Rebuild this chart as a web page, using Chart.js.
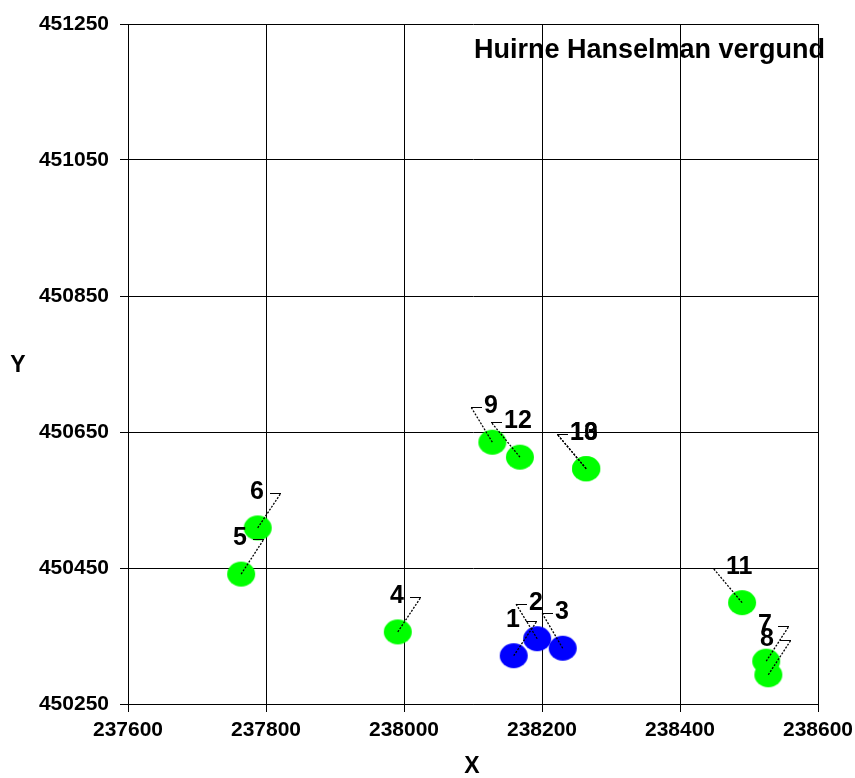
<!DOCTYPE html>
<html>
<head>
<meta charset="utf-8">
<script src="https://cdn.jsdelivr.net/npm/chart.js@4/dist/chart.umd.min.js"></script>
<style>
  body { margin: 0; background: #fff; }
  #wrap { width: 855px; height: 778px; }
</style>
</head>
<body>
<div id="wrap"><canvas id="chartCanvas" width="855" height="778"></canvas></div>
<script>
// punten (X, Y) zoals
const blueNames = ["1", "2", "3"];
const blueX = [238159, 238193, 238230];
const blueY = [450321, 450346, 450332];

const greenNames = ["4", "5", "6", "7", "8", "9", "10", "11", "12", "13"];
const greenX = [237991, 237764, 237788, 238525, 238528, 238128, 238264, 238490, 238168, 238264];
const greenY = [450356, 450441, 450509, 450313, 450293, 450635, 450596, 450399, 450613, 450596];

// richting van het label: -1 = linksboven, 1 = rechtsboven
const blueDir = [1, -1, -1];
const greenDir = [1, 1, 1, 1, 1, -1, -1, -1, -1, -1];

const xTicks = [237600, 237800, 238000, 238200, 238400, 238600];
const yTicks = [450250, 450450, 450650, 450850, 451050, 451250];

const FONT = "Arial, 'Liberation Sans', sans-serif";

function ellipseSprite(color) {
    const c = document.createElement("canvas");
    c.width = 30; c.height = 27;
    const g = c.getContext("2d");
    g.fillStyle = color;
    g.beginPath();
    g.ellipse(15, 13.5, 14, 12.5, 0, 0, Math.PI * 2);
    g.fill();
    return c;
}

function toPoints(xs, ys) {
    return xs.map((x, i) => ({ x: x, y: ys[i] }));
}

// titel en asnamen
const textPlugin = {
    id: "texts",
    beforeDraw(chart) {
        const ctx = chart.ctx;
        ctx.save();
        ctx.fillStyle = "#000";
        ctx.font = "bold 27px " + FONT;
        ctx.textAlign = "left";
        ctx.textBaseline = "middle";
        ctx.fillText("Huirne Hanselman vergund", 474, 51);
        ctx.font = "bold 23px " + FONT;
        ctx.textAlign = "center";
        ctx.fillText("Y", 18, 366);
        ctx.fillText("X", 472, 767);
        ctx.restore();
    }
};

// labels met verbindingslijntjes
const labelPlugin = {
    id: "callouts",
    afterDatasetsDraw(chart) {
        const ctx = chart.ctx;
        const names = [blueNames, greenNames];
        const dirs = [blueDir, greenDir];
        ctx.save();
        ctx.strokeStyle = "#000";
        ctx.fillStyle = "#000";
        ctx.font = "bold 25px " + FONT;
        ctx.textBaseline = "middle";
        chart.data.datasets.forEach((ds, d) => {
            chart.getDatasetMeta(d).data.forEach((pt, i) => {
                const dir = dirs[d][i];
                const txt = names[d][i];
                const dx = dir < 0 ? (txt.length > 1 ? -29 : -21) : 23;
                const cx = Math.round(pt.x + dx), cy = Math.round(pt.y - 35);
                ctx.lineWidth = 1.3;
                ctx.setLineDash([2, 1.5]);
                ctx.beginPath();
                ctx.moveTo(pt.x, pt.y);
                ctx.lineTo(cx, cy);
                ctx.stroke();
                ctx.lineWidth = 1;
                ctx.setLineDash([]);
                ctx.beginPath();
                ctx.moveTo(cx, cy + 0.5);
                ctx.lineTo(cx - dir * 11, cy + 0.5);
                ctx.stroke();
                if (dir < 0) {
                    ctx.textAlign = "left";
                    ctx.fillText(txt, cx + 13, cy - 1);
                } else {
                    ctx.textAlign = "right";
                    ctx.fillText(txt, cx - 17, cy - 1);
                }
            });
        });
        ctx.restore();
    }
};

const tickFont = { family: FONT, size: 21, weight: "bold" };

new Chart(document.getElementById("chartCanvas").getContext("2d"), {
    type: "scatter",
    data: {
        datasets: [
            {
                data: toPoints(blueX, blueY),
                pointStyle: ellipseSprite("#0000ff"),
                backgroundColor: "#0000ff"
            },
            {
                data: toPoints(greenX, greenY),
                pointStyle: ellipseSprite("#00ff00"),
                backgroundColor: "#00ff00"
            }
        ]
    },
    options: {
        responsive: false,
        animation: false,
        layout: { padding: { top: 24, right: 37, left: 0, bottom: 0 } },
        plugins: {
            legend: { display: false },
            tooltip: { enabled: false }
        },
        scales: {
            x: {
                type: "linear",
                min: xTicks[0],
                max: xTicks[xTicks.length - 1],
                afterBuildTicks: (s) => { s.ticks = xTicks.map(v => ({ value: v })); },
                afterFit: (s) => { s.height = 74; s.paddingLeft = 0; s.paddingRight = 0; },
                grid: { color: "#000", lineWidth: 1, tickLength: 8 },
                border: { color: "#000" },
                ticks: {
                    color: "#000",
                    font: tickFont,
                    padding: 6,
                    maxRotation: 0,
                    callback: (v) => String(v)
                }
            },
            y: {
                type: "linear",
                min: yTicks[0],
                max: yTicks[yTicks.length - 1],
                afterBuildTicks: (s) => { s.ticks = yTicks.map(v => ({ value: v })); },
                afterFit: (s) => { s.width = 128; s.paddingTop = 0; s.paddingBottom = 0; },
                grid: { color: "#000", lineWidth: 1, tickLength: 8 },
                border: { color: "#000" },
                ticks: {
                    color: "#000",
                    font: tickFont,
                    padding: 11,
                    callback: (v) => String(v)
                }
            }
        }
    },
    plugins: [textPlugin, labelPlugin]
});
</script>
</body>
</html>
